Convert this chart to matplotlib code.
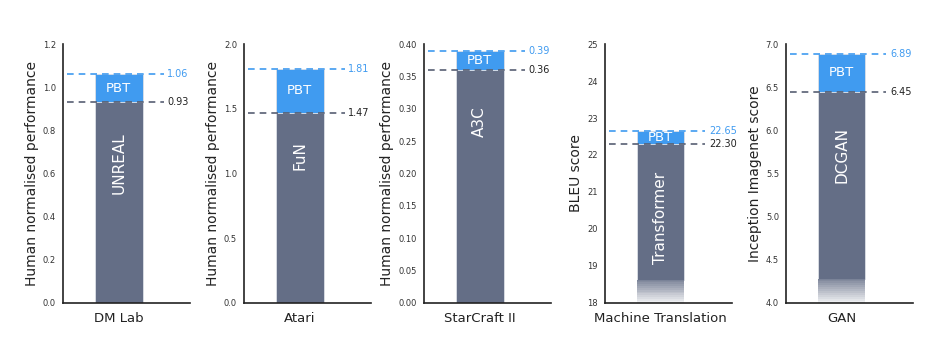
import numpy as np
import matplotlib
matplotlib.use('Agg')
import matplotlib.pyplot as plt

# ---DATA
tasks = ['DM Lab', 'Atari', 'StarCraft II', 'Machine Translation', 'GAN']
baselines = ['UNREAL', 'FuN', 'A3C', 'Transformer', 'DCGAN']
base_vals = [0.93, 1.47, 0.36, 22.30, 6.45]
pbt_vals = [1.06, 1.81, 0.39, 22.65, 6.89]
ylabels = ['Human normalised performance', 'Human normalised performance',
           'Human normalised performance', 'BLEU score', 'Inception Imagenet score']
ylims = [(0, 1.2), (0, 2.0), (0, 0.40), (18, 25), (4.0, 7.0)]
ysteps = [0.2, 0.5, 0.05, 1, 0.5]
tick_fmt = ['{:.1f}', '{:.1f}', '{:.2f}', '{:.0f}', '{:.1f}']
# where the axis is broken (solid part of the bar stops, fade below)
fade_top = [None, None, None, 18.6, 4.27]

# ---STYLE / LAYOUT
grey = '#646e86'
blue = '#409bf0'
dash_grey = '#575f73'
lefts = [0.0674, 0.261, 0.4535, 0.647, 0.8406]
name_y = [0.54, 0.57, 0.70, 0.327, 0.57]

fig = plt.figure(figsize=(9.35, 3.4), dpi=100)

for i in range(5):
    ax = fig.add_axes([lefts[i], 0.110, 0.136, 0.760])
    lo, hi = ylims[i]
    b = base_vals[i]
    p = pbt_vals[i]

    # base bar (solid part), with faded bottom for broken axes
    bottom = lo if fade_top[i] is None else fade_top[i]
    ax.bar(0, b - bottom, bottom=bottom, width=1, color=grey,
           edgecolor='#dde0e6', linewidth=0.6, zorder=2)
    if fade_top[i] is not None:
        n = 12
        edges = np.linspace(lo, fade_top[i], n + 1)
        for k in range(n):
            a = 0.05 + 0.75 * (k + 1) / n
            ax.bar(0, edges[k + 1] - edges[k], bottom=edges[k], width=1,
                   color=grey, alpha=a, linewidth=0, zorder=2)
    # PBT improvement
    ax.bar(0, p - b, bottom=b, width=1, color=blue,
           edgecolor='#dde0e6', linewidth=0.6, zorder=2)

    # dashed reference lines and values
    ax.plot([-1.09, 0.94], [p, p], ls=(0, (4, 3)), color=blue, lw=1.2, zorder=3)
    ax.plot([-1.09, 0.94], [b, b], ls=(0, (4, 3)), color=dash_grey, lw=1.2, zorder=3)
    ax.text(1.02, p, '{:.2f}'.format(p), color=blue, fontsize=7,
            va='center', ha='left')
    ax.text(1.02, b, '{:.2f}'.format(b), color='#222222', fontsize=7,
            va='center', ha='left')

    ax.text(0, (b + p) / 2, 'PBT', color='white', fontsize=9.5,
            ha='center', va='center', zorder=4)
    ax.text(0, lo + name_y[i] * (hi - lo), baselines[i], color='white',
            fontsize=11, rotation=90, ha='center', va='center', zorder=4)

    ax.set_xlim(-1.17, 1.5)
    ax.set_ylim(lo, hi)
    ticks = np.arange(lo, hi + ysteps[i] / 2, ysteps[i])
    ax.set_yticks(ticks)
    ax.set_yticklabels([tick_fmt[i].format(t) for t in ticks])
    ax.set_xticks([0])
    ax.set_xticklabels([tasks[i]], fontsize=9.5)
    ax.tick_params(axis='y', length=0, labelsize=6, colors='#333333', pad=5)
    ax.tick_params(axis='x', length=0, pad=7, colors='#222222')
    ax.set_ylabel(ylabels[i], fontsize=10, color='#222222', labelpad=3)
    for s in ['top', 'right']:
        ax.spines[s].set_visible(False)
    for s in ['left', 'bottom']:
        ax.spines[s].set_color('#222222')
        ax.spines[s].set_linewidth(1.2)

fig.savefig('out.png', dpi=100)
